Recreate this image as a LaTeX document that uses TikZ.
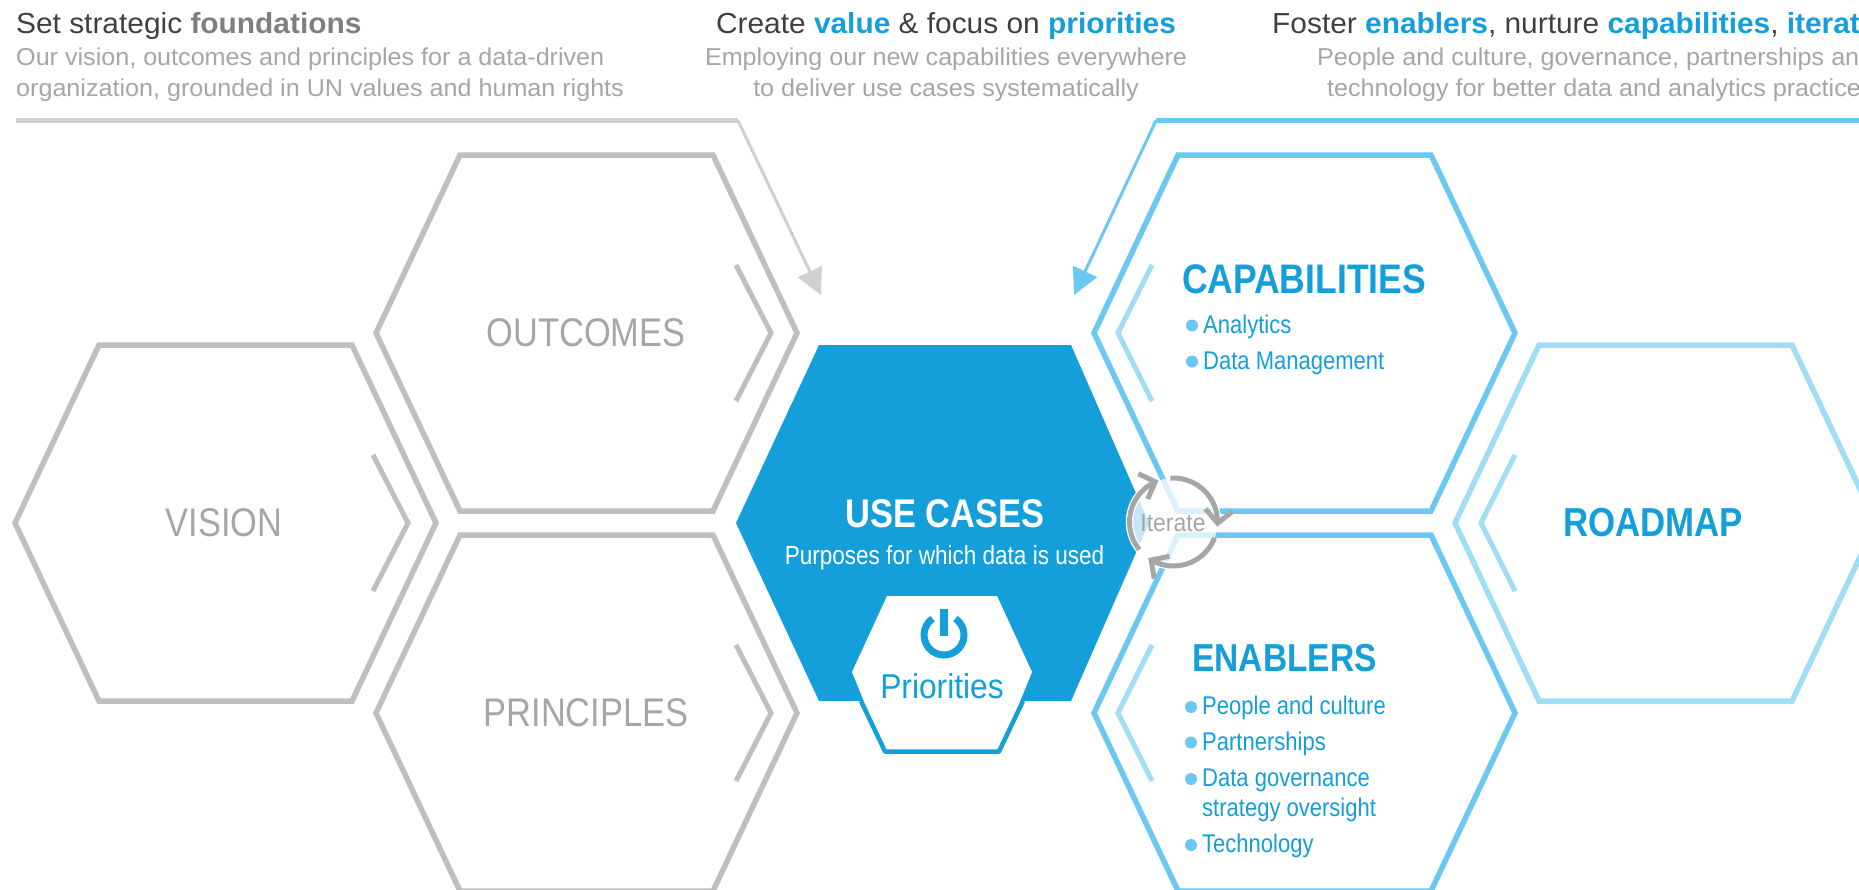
\documentclass[tikz,border=0pt]{standalone}
\usepackage{fontspec}
\usetikzlibrary{arrows.meta,calc,bending}
\setmainfont{Liberation Sans}
\newfontfamily\hd[FakeStretch=1.03]{Liberation Sans}
\newfontfamily\cnd[FakeStretch=0.86]{Liberation Sans}
\newfontfamily\cndw[FakeStretch=0.92]{Liberation Sans}
\definecolor{cgray}{HTML}{BFBFBF}
\definecolor{clinegray}{HTML}{D0D0D0}
\definecolor{ctxtgray}{HTML}{A6A6A6}
\definecolor{cdark}{HTML}{404040}
\definecolor{cbold}{HTML}{7F7F7F}
\definecolor{cblue}{HTML}{149FDA}
\definecolor{cmid}{HTML}{6AC8F2}
\definecolor{clight}{HTML}{A0DDF7}
\newcommand\hexa[4][]{% style, left x, centre y, name
  \coordinate (#4) at (#2,#3);
  \draw[hexline,#1] ($(#4)+(0,0)$) -- ($(#4)+(84,-178)$) -- ($(#4)+(337,-178)$) -- ($(#4)+(421,0)$) -- ($(#4)+(337,178)$) -- ($(#4)+(84,178)$) -- cycle;}
\newcommand\chevR[3][]{\draw[chev,#1] ($(#2)+(#3,-68)$) -- ($(#2)+(#3+35,0)$) -- ($(#2)+(#3,68)$);}
\newcommand\chevL[3][]{\draw[chev,#1] ($(#2)+(#3,-68)$) -- ($(#2)+(#3-34,0)$) -- ($(#2)+(#3,68)$);}
\tikzset{
  hexline/.style={line width=5.5pt,miter limit=10,line join=miter},
  chev/.style={line width=5pt,line join=miter},
  head/.style={font=\hd\fontsize{29}{29}\selectfont,color=cdark,inner sep=0pt,anchor=base},
  sub/.style={font=\hd\fontsize{24.4}{25}\selectfont,color=ctxtgray,inner sep=0pt,anchor=base},
  biglabel/.style={font=\cnd\fontsize{40}{40}\selectfont,inner sep=0pt},
  bulletitem/.style={font=\cnd\fontsize{25.6}{26}\selectfont,color=cblue,inner sep=0pt,anchor=base west},
  dotmark/.style={circle,fill=cmid,inner sep=0pt,minimum size=12pt},
  iter/.style={line width=5pt,color=ctxtgray,-{Straight Barb[length=13pt,width=27pt,line width=5pt,flex=0.4]},preaction={draw=white,line width=7.5pt,-}},
}
\begin{document}
\begin{tikzpicture}[x=1pt,y=1pt,yscale=-1]
\useasboundingbox (0,0) rectangle (1859,889);
\fill[white] (0,0) rectangle (1859,889);

% headers
\node[head,anchor=base west] (h1) at (16,33) {Set strategic \textbf{\textcolor{cbold}{foundations}}};
\node[sub,anchor=base west] (s1a) at (16,65) {Our vision, outcomes and principles for a data-driven};
\node[sub,anchor=base west] (s1b) at (16,96) {organization, grounded in UN values and human rights};
\node[head] (h2) at (946,33) {Create \textbf{\textcolor{cblue}{value}} \& focus on \textbf{\textcolor{cblue}{priorities}}};
\node[sub] (s2a) at (946,65) {Employing our new capabilities everywhere};
\node[sub] (s2b) at (946,96) {to deliver use cases systematically};
\node[head,anchor=base west] (h3) at (1272,33) {Foster \textbf{\textcolor{cblue}{enablers}}, nurture \textbf{\textcolor{cblue}{capabilities}}, \textbf{\textcolor{cblue}{iterate}}};
\node[sub,anchor=base west] (s3a) at (1317,65) {People and culture, governance, partnerships and};
\node[sub,anchor=base west] (s3b) at (1327,96) {technology for better data and analytics practices};

% brackets
\coordinate (ga) at (16,120.5);
\coordinate (gb) at (738,120.5);
\coordinate (gc) at (821,295);
\draw[clinegray,line width=4.2pt] (ga) -- (gb);
\draw[clinegray,line width=3pt,-{Triangle[length=26pt,width=26pt]}] (gb) -- (gc);
\coordinate (ba) at (1859,120.5);
\coordinate (bb) at (1156,120.5);
\coordinate (bc) at (1074,295);
\draw[cmid,line width=4.2pt] (ba) -- (bb);
\draw[cmid,line width=3pt,-{Triangle[length=26pt,width=26pt]}] (bb) -- (bc);

% grey hexagons
\hexa[cgray]{15}{523}{vis}
\chevR[cgray]{vis}{358}
\hexa[cgray]{376}{333}{out}
\chevR[cgray]{out}{360}
\hexa[cgray]{376}{713}{pri}
\chevR[cgray]{pri}{360}
% blue hexagons
\hexa[cmid]{1094}{333}{cap}
\chevL[clight]{cap}{58}
\hexa[cmid]{1094}{713}{ena}
\chevL[clight]{ena}{58}
\hexa[clight]{1455}{523}{roa}
\chevL[clight]{roa}{60}

% labels
\node[biglabel,color=ctxtgray] (lvis) at (224,523) {VISION};
\node[biglabel,color=ctxtgray] (lout) at (586,333) {OUTCOMES};
\node[biglabel,color=ctxtgray] (lpri) at (586,713) {PRINCIPLES};
\node[biglabel,color=cblue,font=\cnd\bfseries\fontsize{41.3}{41}\selectfont] (lcap) at (1304,279) {CAPABILITIES};
\node[biglabel,color=cblue,font=\cnd\bfseries\fontsize{39}{39}\selectfont] (lena) at (1284.5,658) {ENABLERS};
\node[biglabel,color=cblue,font=\cnd\bfseries\fontsize{40.5}{41}\selectfont] (lroa) at (1653,523) {ROADMAP};

% bullets
\node[dotmark] (d1) at (1192,325.5) {};
\node[bulletitem] (t1) at (1203,333) {Analytics};
\node[dotmark] (d2) at (1192,361.5) {};
\node[bulletitem] (t2) at (1203,369) {Data Management};
\node[dotmark] (d3) at (1191,707) {};
\node[bulletitem] (t3) at (1202,714) {People and culture};
\node[dotmark] (d4) at (1191,742.5) {};
\node[bulletitem] (t4) at (1202,750) {Partnerships};
\node[dotmark] (d5) at (1191,779) {};
\node[bulletitem] (t5) at (1202,786) {Data governance};
\node[bulletitem] (t6) at (1202,816) {strategy oversight};
\node[dotmark] (d6) at (1191,845) {};
\node[bulletitem] (t7) at (1202,852) {Technology};

% use cases
\fill[cblue] (736,523) -- (819,345) -- (1071,345) -- (1149,523) -- (1071,701) -- (819,701) -- cycle;
\node[biglabel,color=white,font=\cnd\bfseries\fontsize{40}{40}\selectfont] (luse) at (945,514) {USE CASES};
\node[bulletitem,color=white,anchor=base,font=\cnd\fontsize{26.2}{27}\selectfont] (lpur) at (944.5,564) {Purposes for which data is used};
% priorities
\fill[white] (852,672) -- (887,596) -- (997,596) -- (1032,672) -- (999,753) -- (885,753) -- cycle;
\draw[cblue,line width=4.5pt,line join=round] (861,701) -- (885,751.5) -- (999,751.5) -- (1023,701);
\coordinate (pw) at (944,635);
\draw[cblue,line width=7pt] ($(pw)+(-55:20)$) arc (-55:235:20);
\fill[cblue] (940,609) rectangle (948,636);
\node[font=\cndw\fontsize{34.5}{35}\selectfont,color=cblue,inner sep=0pt,anchor=base] (lprio) at (942,698) {Priorities};

% iterate
\coordinate (it) at (1173.5,522);
\fill[white,opacity=.75] (it) circle (44);
\draw[iter] ($(it)+(-94:44)$) arc (-94:6:44);
\draw[iter] ($(it)+(21:44)$) arc (21:125:44);
\draw[iter] ($(it)+(141:44)$) arc (141:250:44);
\node[font=\cndw\fontsize{25}{25}\selectfont,color=ctxtgray,inner sep=0pt] (lit) at (1173,523) {Iterate};
\end{tikzpicture}
\end{document}
